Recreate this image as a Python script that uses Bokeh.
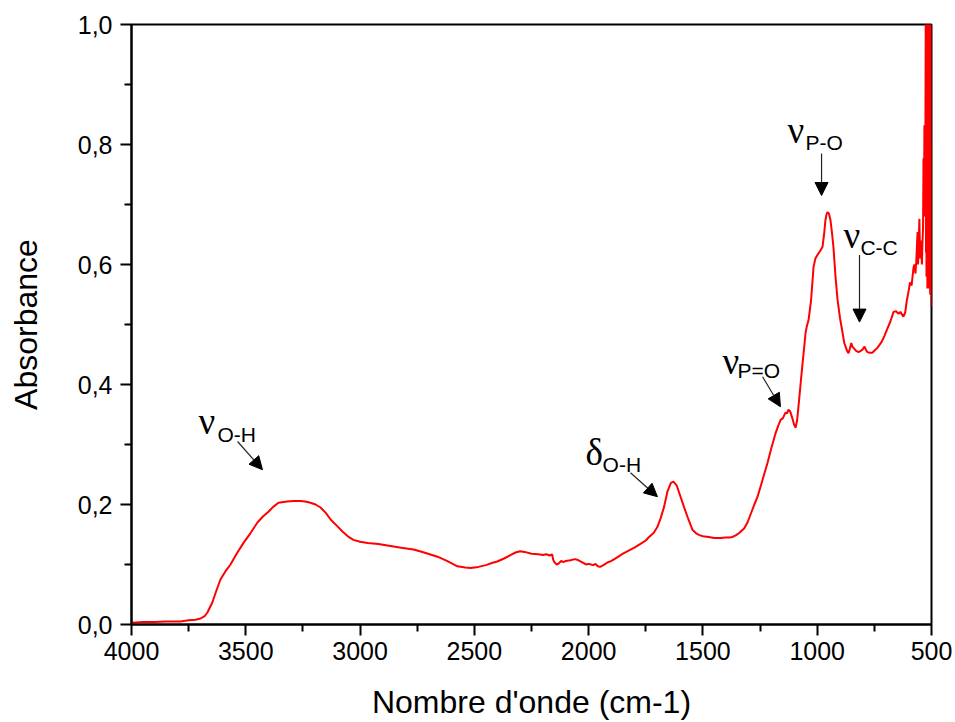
from bokeh.plotting import figure
from bokeh.models import Range1d, FixedTicker, Arrow, NormalHead, ColumnDataSource
from bokeh.core.properties import value
from bokeh.embed import file_html
from bokeh.resources import INLINE

# ---- Spectrum data ----
wavenumber = [4000, 3950, 3900, 3850, 3800, 3786, 3750, 3720, 3698, 3680, 3668, 3646, 3630,
              3611, 3590, 3567, 3540, 3510, 3480, 3449, 3425, 3401, 3380, 3357, 3320, 3290,
              3261, 3240, 3217, 3195, 3173, 3150, 3129, 3100, 3077, 3050, 3029, 3000, 2967,
              2920, 2867, 2820, 2766, 2720, 2661, 2620, 2574, 2540, 2517, 2482, 2450, 2420,
              2400, 2370, 2340, 2320, 2300, 2280, 2250, 2220, 2200, 2185, 2170, 2160, 2155,
              2150, 2140, 2130, 2120, 2110, 2100, 2080, 2060, 2050, 2030, 2010, 2000, 1990,
              1980, 1970, 1960, 1950, 1935, 1920, 1900, 1875, 1850, 1825, 1800, 1775, 1750,
              1738, 1715, 1700, 1686, 1670, 1655, 1640, 1629, 1615, 1598, 1583, 1568, 1555,
              1546, 1530, 1515, 1500, 1475, 1450, 1425, 1400, 1385, 1370, 1355, 1340, 1320,
              1305, 1290, 1275, 1261, 1240, 1217, 1200, 1182, 1170, 1160, 1150, 1139, 1132,
              1126, 1118, 1109, 1101, 1095, 1088, 1082, 1073, 1064, 1057, 1051, 1045, 1038,
              1027, 1016, 1008, 999, 988, 977, 970, 964, 959, 955, 949, 942, 936, 929, 920,
              911, 900, 889, 882, 876, 869, 863, 857, 851, 846, 841, 830, 819, 810, 802, 797,
              793, 787, 781, 770, 759, 748, 737, 718, 705, 692, 680, 666, 655, 644, 636,
              623, 615, 608, 601, 594, 587, 579, 575, 570, 566, 561, 559, 557, 553, 550, 546,
              542, 540, 537, 535, 533, 531, 529, 527, 525, 524, 523, 522, 521, 520, 519, 518,
              517, 516, 515, 514, 513, 512, 511, 510, 509, 508, 507, 506, 505, 504, 503, 502,
              501, 500]
absorbance = [0.003, 0.004, 0.004, 0.005, 0.005, 0.005, 0.007, 0.008, 0.010, 0.014, 0.020,
              0.037, 0.055, 0.075, 0.088, 0.100, 0.118, 0.136, 0.152, 0.170, 0.180, 0.188,
              0.196, 0.203, 0.205, 0.206, 0.206, 0.205, 0.203, 0.200, 0.195, 0.186, 0.175,
              0.164, 0.155, 0.146, 0.141, 0.138, 0.136, 0.134, 0.131, 0.128, 0.125, 0.120,
              0.113, 0.106, 0.097, 0.095, 0.094, 0.096, 0.099, 0.103, 0.105, 0.110, 0.116,
              0.120, 0.122, 0.121, 0.118, 0.117, 0.116, 0.117, 0.115, 0.117, 0.108, 0.104,
              0.100, 0.102, 0.106, 0.104, 0.106, 0.107, 0.109, 0.108, 0.104, 0.100, 0.101,
              0.100, 0.099, 0.101, 0.097, 0.096, 0.099, 0.103, 0.106, 0.112, 0.118, 0.123,
              0.128, 0.134, 0.140, 0.145, 0.153, 0.162, 0.176, 0.196, 0.222, 0.236, 0.238,
              0.232, 0.213, 0.196, 0.180, 0.167, 0.158, 0.152, 0.149, 0.147, 0.146, 0.144,
              0.144, 0.145, 0.145, 0.146, 0.149, 0.153, 0.160, 0.170, 0.185, 0.200, 0.213,
              0.240, 0.270, 0.295, 0.319, 0.332, 0.341, 0.344, 0.353, 0.352, 0.358, 0.355,
              0.344, 0.333, 0.328, 0.340, 0.363, 0.400, 0.436, 0.462, 0.486, 0.498, 0.507,
              0.540, 0.596, 0.610, 0.616, 0.622, 0.629, 0.650, 0.674, 0.684, 0.687, 0.685,
              0.674, 0.655, 0.629, 0.580, 0.541, 0.510, 0.486, 0.470, 0.463, 0.456, 0.452,
              0.460, 0.469, 0.463, 0.461, 0.456, 0.454, 0.456, 0.458, 0.461, 0.463, 0.458,
              0.454, 0.453, 0.453, 0.457, 0.461, 0.471, 0.482, 0.494, 0.505, 0.521, 0.522,
              0.518, 0.521, 0.513, 0.520, 0.540, 0.554, 0.570, 0.565, 0.594, 0.600, 0.585,
              0.610, 0.654, 0.600, 0.620, 0.676, 0.610, 0.640, 0.600, 0.632, 0.660, 0.777,
              0.680, 0.832, 0.700, 0.750, 1.050, 0.620, 1.050, 0.580, 1.050, 0.600, 1.050,
              0.560, 1.050, 0.600, 1.050, 0.570, 1.050, 0.600, 1.050, 0.560, 1.050, 0.580,
              1.050, 0.550, 1.050, 0.600, 1.020, 0.560, 0.800, 0.530]

x_ticks = [4000, 3500, 3000, 2500, 2000, 1500, 1000, 500]
x_minor = [3750, 3250, 2750, 2250, 1750, 1250, 750]
y_ticks = [0.0, 0.2, 0.4, 0.6, 0.8, 1.0]
y_minor = [0.1, 0.3, 0.5, 0.7, 0.9]
y_tick_labels = ["0,0", "0,2", "0,4", "0,6", "0,8", "1,0"]

# Annotations: (greek symbol, subscript)
ann_symbols = ["\u03bd", "\u03b4", "\u03bd", "\u03bd", "\u03bd"]
ann_subs = ["O-H", "O-H", "P=O", "P-O", "C-C"]
ann_sym_x = [3707, 2014, 1414, 1130, 885]
ann_sym_y = [0.338, 0.286, 0.438, 0.824, 0.649]
ann_sub_x = [3624, 1939, 1349, 1051, 811]
ann_sub_y = [0.316, 0.266, 0.424, 0.804, 0.629]
arr_x0 = [3536, 1817, 1239, 981, 815]
arr_y0 = [0.305, 0.253, 0.413, 0.785, 0.616]
arr_x1 = [3427, 1699, 1161, 981, 815]
arr_y1 = [0.258, 0.213, 0.363, 0.715, 0.504]

p = figure(width=955, height=722, output_backend="svg", toolbar_location=None,
           x_range=Range1d(4000, 500), y_range=Range1d(0, 1.0),
           min_border_left=131, min_border_right=24, min_border_top=24, min_border_bottom=97)
p.background_fill_color = "white"
p.border_fill_color = "white"
p.outline_line_color = "black"
p.outline_line_width = 2
p.xgrid.visible = False
p.ygrid.visible = False

p.line(wavenumber, absorbance, line_color="#FF0000", line_width=2)

for ax in (p.xaxis[0], p.yaxis[0]):
    ax.axis_line_width = 2
    ax.axis_line_color = "black"
    ax.major_tick_line_width = 2
    ax.minor_tick_line_width = 2
    ax.major_tick_line_color = "black"
    ax.minor_tick_line_color = "black"
    ax.major_tick_out = 11
    ax.major_tick_in = 0
    ax.minor_tick_out = 7
    ax.minor_tick_in = 0
    ax.major_label_text_font = "Liberation Sans"
    ax.major_label_text_font_size = "25px"
    ax.major_label_text_color = "black"
    ax.axis_label_text_font = "Liberation Sans"
    ax.axis_label_text_font_size = "32px"
    ax.axis_label_text_font_style = "normal"
    ax.axis_label_text_color = "black"

p.xaxis.ticker = FixedTicker(ticks=x_ticks, minor_ticks=x_minor)
p.yaxis.ticker = FixedTicker(ticks=y_ticks, minor_ticks=y_minor)
p.yaxis.major_label_overrides = {t: l for t, l in zip(y_ticks, y_tick_labels)}
p.xaxis.major_label_overrides = {t: str(t) for t in x_ticks}
p.xaxis.axis_label = "Nombre d'onde (cm-1)"
p.yaxis.axis_label = "Absorbance"
p.xaxis.major_label_standoff = 6
p.yaxis.major_label_standoff = 8
p.xaxis.axis_label_standoff = 21
p.yaxis.axis_label_standoff = 31

src_sym = ColumnDataSource(dict(x=ann_sym_x, y=ann_sym_y, t=ann_symbols))
src_sub = ColumnDataSource(dict(x=ann_sub_x, y=ann_sub_y, t=ann_subs))
p.text(x="x", y="y", text="t", source=src_sym, text_font=value("Liberation Serif"),
       text_font_size="37px", text_color="black", text_baseline="alphabetic", text_align="left")
p.text(x="x", y="y", text="t", source=src_sub, text_font=value("Liberation Sans"),
       text_font_size="21px", text_color="black", text_baseline="alphabetic", text_align="left")

for x0, y0, x1, y1 in zip(arr_x0, arr_y0, arr_x1, arr_y1):
    p.add_layout(Arrow(x_start=x0, y_start=y0, x_end=x1, y_end=y1,
                       line_color="#222222", line_width=1.2,
                       end=NormalHead(size=13, fill_color="black", line_color="black", line_width=1)))

html = file_html(p, INLINE)
open("out.html", "w").write(html)
